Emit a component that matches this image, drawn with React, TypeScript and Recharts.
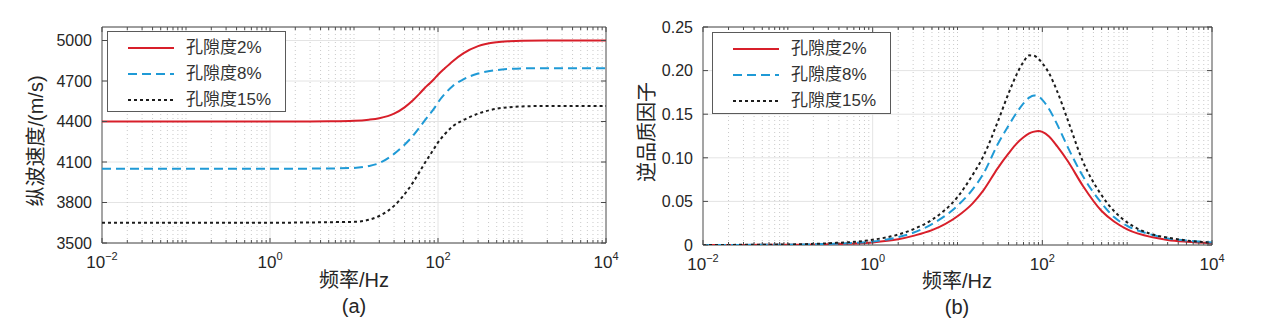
import React from 'react';
import { LineChart, Line, XAxis, YAxis, CartesianGrid, ReferenceLine, ReferenceArea, Legend } from 'recharts';

// ---------------- data ----------------
const frequencies = [0.01, 0.03, 0.1, 0.3, 1, 2, 3, 5, 10, 15, 20, 30, 40, 50, 60, 70, 80, 90, 100, 120, 150, 200, 300, 500, 700, 1000, 2000, 3000, 5000, 10000];

// (a) P-wave velocity (m/s)
const velocity2 = [4400, 4400, 4400, 4400, 4400, 4400, 4400, 4401, 4405, 4413, 4424, 4458, 4505, 4555, 4605, 4650, 4683, 4715, 4746, 4793, 4847, 4905, 4958, 4987, 4995, 4999, 5000, 5000, 5000, 5000];
const velocity8 = [4050, 4050, 4050, 4050, 4050, 4050, 4051, 4052, 4056, 4070, 4092, 4160, 4228, 4292, 4355, 4410, 4455, 4497, 4541, 4603, 4663, 4712, 4755, 4781, 4789, 4793, 4795, 4795, 4795, 4795];
const velocity15 = [3650, 3650, 3650, 3650, 3650, 3651, 3652, 3654, 3657, 3672, 3700, 3775, 3862, 3945, 4025, 4095, 4150, 4200, 4245, 4305, 4365, 4410, 4458, 4495, 4506, 4512, 4515, 4515, 4515, 4515];

// (b) inverse quality factor
const invQ2 = [0.0000, 0.0001, 0.0003, 0.0009, 0.0030, 0.0065, 0.0105, 0.017, 0.033, 0.0475, 0.062, 0.0885, 0.105, 0.1165, 0.1235, 0.128, 0.1300, 0.1307, 0.1297, 0.1245, 0.113, 0.096, 0.068, 0.039, 0.027, 0.018, 0.0088, 0.0058, 0.0037, 0.0020];
const invQ8 = [0.0000, 0.0001, 0.0004, 0.0012, 0.0040, 0.0090, 0.014, 0.024, 0.045, 0.0635, 0.081, 0.116, 0.137, 0.152, 0.1625, 0.169, 0.1715, 0.1705, 0.1665, 0.156, 0.138, 0.112, 0.079, 0.048, 0.032, 0.022, 0.0115, 0.0076, 0.0052, 0.0028];
const invQ15 = [0.0000, 0.0002, 0.0006, 0.0020, 0.0060, 0.012, 0.018, 0.029, 0.055, 0.080, 0.101, 0.142, 0.174, 0.196, 0.210, 0.2175, 0.2170, 0.2135, 0.2085, 0.197, 0.176, 0.143, 0.096, 0.057, 0.039, 0.026, 0.012, 0.0085, 0.0052, 0.0027];

const seriesNames = ['孔隙度2%', '孔隙度8%', '孔隙度15%'];

const velTicks = [3500, 3800, 4100, 4400, 4700, 5000];
const qTicks = [0, 0.05, 0.1, 0.15, 0.2, 0.25];
const xMajorTicks = [0.01, 1, 100, 10000];
const xDecades = [0.01, 0.1, 1, 10, 100, 1000];

// ---------------- derived ----------------
const xAllTicks = [...xDecades.flatMap((d) => [1, 2, 3, 4, 5, 6, 7, 8, 9].map((k) => k * d)), 10000];
const xGridMinor = xAllTicks.filter((v) => !xMajorTicks.includes(v));

const velData = frequencies.map((f, i) => ({ f, s0: velocity2[i], s1: velocity8[i], s2: velocity15[i] }));
const qData = frequencies.map((f, i) => ({ f, s0: invQ2[i], s1: invQ8[i], s2: invQ15[i] }));

const FONT = '"Liberation Sans", Arial, "Noto Sans CJK SC", sans-serif';
const TEXT = '#262626';
const FRAME = '#4a4a4a';

const styles = [
  { key: 's0', color: '#d81f2a', dash: undefined as string | undefined },
  { key: 's1', color: '#1f9ad6', dash: '9 5' },
  { key: 's2', color: '#1c1c1c', dash: '3 3' },
];

const makeXTick = (plotHeight: number) => (props: any) => {
  const { x, y, payload } = props;
  const v = payload.value;
  const major = xMajorTicks.includes(v);
  const len = major ? 5 : 3;
  const top = y - plotHeight;
  const e = Math.round(Math.log10(v));
  return (
    <g>
      <line x1={x} x2={x} y1={y} y2={y - len} stroke={FRAME} strokeWidth={1} />
      <line x1={x} x2={x} y1={top} y2={top + len} stroke={FRAME} strokeWidth={1} />
      {major ? (
        <text x={x} y={y + 25} textAnchor="middle" fontFamily={FONT} fontSize={17} fill={TEXT}>
          10
          <tspan dy={-8} fontSize={11}>{e < 0 ? '\u2212' + Math.abs(e) : String(e)}</tspan>
        </text>
      ) : null}
    </g>
  );
};

const makeYTick = (plotWidth: number, fmt: (v: number) => string) => (props: any) => {
  const { x, y, payload } = props;
  const right = x + plotWidth;
  return (
    <g>
      <line x1={x} x2={x + 5} y1={y} y2={y} stroke={FRAME} strokeWidth={1} />
      <line x1={right} x2={right - 5} y1={y} y2={y} stroke={FRAME} strokeWidth={1} />
      <text x={x - 10} y={y} dy="0.36em" textAnchor="end" fontFamily={FONT} fontSize={16} fill={TEXT}>
        {fmt(payload.value)}
      </text>
    </g>
  );
};

const LegendBox = ({ lineX1, lineX2, textX, height }: { lineX1: number; lineX2: number; textX: number; height: number }) => (
  <div
    style={{
      width: 179,
      height,
      border: '1px solid #5a5a5a',
      background: '#fff',
      boxSizing: 'border-box',
      position: 'relative',
      fontFamily: FONT,
      fontSize: 17,
      color: '#333',
    }}
  >
    {seriesNames.map((name, i) => (
      <div key={name} style={{ position: 'absolute', left: 0, top: 3 + i * 26, height: 26, width: 179, whiteSpace: 'nowrap' }}>
        <svg width={textX} height={26} style={{ position: 'absolute', left: 0, top: 0 }}>
          <line x1={lineX1} x2={lineX2} y1={13} y2={13} stroke={styles[i].color} strokeWidth={2} strokeDasharray={styles[i].dash} />
        </svg>
        <span style={{ position: 'absolute', left: textX, top: 0, lineHeight: '26px' }}>{name}</span>
      </div>
    ))}
  </div>
);

type PanelProps = {
  left: number;
  width: number;
  data: any[];
  yDomain: [number, number];
  yTicks: number[];
  yFmt: (v: number) => string;
  margin: { top: number; right: number; bottom: number; left: number };
  legendLeft: number;
  legendTop: number;
  legendHeight: number;
};

function Panel({ left, width, data, yDomain, yTicks, yFmt, margin, legendLeft, legendTop, legendHeight }: PanelProps) {
  const height = 330;
  const yAxisWidth = 70;
  const xAxisHeight = 40;
  const plotW = width - margin.left - margin.right - yAxisWidth;
  const plotH = height - margin.top - margin.bottom - xAxisHeight;
  return (
    <div style={{ position: 'absolute', left, top: 0 }}>
      <LineChart width={width} height={height} data={data} margin={margin}>
        <CartesianGrid vertical={false} stroke="#e4e4e4" strokeWidth={1} />
        {xGridMinor.map((v) => (
          <ReferenceLine key={'m' + v} x={v} stroke="#c9c9c9" strokeWidth={1} strokeDasharray="1 3" />
        ))}
        {[1, 100].map((v) => (
          <ReferenceLine key={'M' + v} x={v} stroke="#e4e4e4" strokeWidth={1} />
        ))}
        <XAxis
          dataKey="f"
          type="number"
          scale="log"
          domain={[0.01, 10000]}
          ticks={xAllTicks}
          interval={0}
          allowDataOverflow
          axisLine={false}
          tickLine={false}
          tickSize={0}
          tickMargin={0}
          height={xAxisHeight}
          tick={makeXTick(plotH)}
        />
        <YAxis
          type="number"
          domain={yDomain}
          ticks={yTicks}
          interval={0}
          allowDataOverflow
          axisLine={false}
          tickLine={false}
          tickSize={0}
          tickMargin={0}
          width={yAxisWidth}
          tick={makeYTick(plotW, yFmt)}
        />
        {styles.map((s, i) => (
          <Line
            key={s.key}
            dataKey={s.key}
            name={seriesNames[i]}
            type="monotone"
            stroke={s.color}
            strokeWidth={2}
            strokeDasharray={s.dash}
            dot={false}
            activeDot={false}
            isAnimationActive={false}
          />
        ))}
        <ReferenceArea x1={0.01} x2={10000} y1={yDomain[0]} y2={yDomain[1]} fill="none" fillOpacity={0} stroke={FRAME} strokeWidth={1} />
        <Legend
          layout="horizontal"
          verticalAlign="middle"
          align="center"
          wrapperStyle={{ left: legendLeft, top: legendTop, width: 179, height: legendHeight }}
          content={() => <LegendBox lineX1={20} lineX2={66} textX={78} height={legendHeight} />}
        />
      </LineChart>
    </div>
  );
}

const label = (x: number, y: number, text: string, rotate = false): React.ReactNode => (
  <div
    style={{
      position: 'absolute',
      left: x,
      top: y,
      transform: `translate(-50%, -50%)${rotate ? ' rotate(-90deg)' : ''}`,
      whiteSpace: 'nowrap',
      fontFamily: FONT,
      fontSize: 20,
      color: TEXT,
      lineHeight: '24px',
    }}
  >
    {text}
  </div>
);

export default function App() {
  return (
    <div style={{ position: 'absolute', left: 0, top: 0, width: 1270, height: 330, background: '#fff', overflow: 'hidden' }}>
      <Panel
        left={0}
        width={620}
        data={velData}
        yDomain={[3500, 5100]}
        yTicks={velTicks}
        yFmt={(v) => String(v)}
        margin={{ top: 27, right: 14, bottom: 47, left: 32 }}
        legendLeft={107}
        legendTop={31}
        legendHeight={81}
      />
      <Panel
        left={620}
        width={650}
        data={qData}
        yDomain={[0, 0.25]}
        yTicks={qTicks}
        yFmt={(v) => (v === 0 ? '0' : v.toFixed(2))}
        margin={{ top: 27, right: 58, bottom: 45, left: 13 }}
        legendLeft={92}
        legendTop={32}
        legendHeight={82}
      />
      {label(36, 141, '纵波速度/(m/s)', true)}
      {label(354, 280, '频率/Hz')}
      {label(354, 306, '(a)')}
      {label(647, 132, '逆品质因子', true)}
      {label(957, 281, '频率/Hz')}
      {label(957, 307, '(b)')}
    </div>
  );
}
